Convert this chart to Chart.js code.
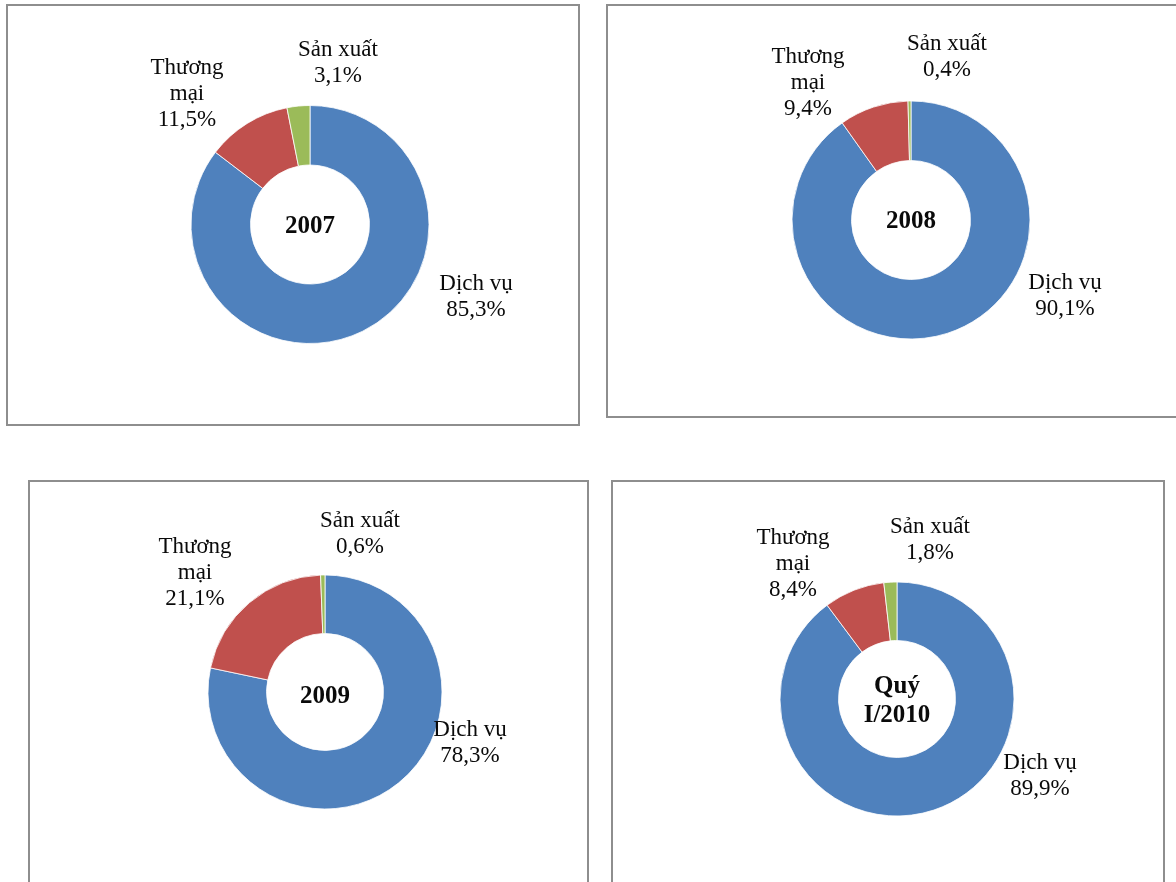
<!DOCTYPE html>
<html lang="vi">
<head>
<meta charset="utf-8">
<title>Cơ cấu theo lĩnh vực 2007 - Quý I/2010</title>
<script src="https://cdn.jsdelivr.net/npm/chart.js@4.4.1/dist/chart.umd.min.js"></script>
<style>
    html, body {
        margin: 0;
        padding: 0;
        background: #ffffff;
        width: 1176px;
        height: 882px;
        overflow: hidden;
    }
    .panel {
        position: absolute;
        box-sizing: border-box;
        border: 2px solid #8e8e8e;
        background: #ffffff;
    }
    .panel canvas {
        position: absolute;
        left: 0;
        top: 0;
    }
</style>
</head>
<body>
<script>
// Data: share of each sector (%) per period
const categories = ['Dịch vụ', 'Thương mại', 'Sản xuất'];
const periods = ['2007', '2008', '2009', 'Quý I/2010'];
const dichVu = [85.3, 90.1, 78.3, 89.9];
const thuongMai = [11.5, 9.4, 21.1, 8.4];
const sanXuat = [3.1, 0.4, 0.6, 1.8];

const sliceColors = ['#4f81bd', '#c0504d', '#9bbb59'];

// How each category name breaks over lines in its label
const nameLines = {
    'Dịch vụ': ['Dịch vụ'],
    'Thương mại': ['Thương', 'mại'],
    'Sản xuất': ['Sản xuất']
};

// Layout of the four framed boxes (page px, border included)
const boxes = [
    { left: 6, top: 4, width: 574, height: 422 },
    { left: 606, top: 4, width: 580, height: 414 },
    { left: 28, top: 480, width: 561, height: 420 },
    { left: 611, top: 480, width: 554, height: 420 }
];
// Donut centre (page px) and outer radius for each box
const centers = [[310, 224.5], [911, 220], [325, 692], [897, 699]];
const radii = [119, 119, 117, 117];
// Label block centres relative to the donut centre, in category order
const labelOffsets = [
    [[166, 72], [-123, -131], [28, -162]],
    [[154, 76], [-103, -137], [36, -163]],
    [[145, 51], [-130, -119], [35, -158]],
    [[143, 77], [-104, -135], [33, -159]]
];
// Period name in the hole sits a little below the true centre
const centerTextShift = [2, 2, 5, 2];

const BORDER = 2;
const LINE_H = 26;
const labelFont = '23px "Liberation Serif", "Times New Roman", serif';
const centerFont = 'bold 25px "Liberation Serif", "Times New Roman", serif';

function fmtPct(v) {
    return v.toFixed(1).replace('.', ',') + '%';
}

function drawLines(ctx, lines, x, y, lineH) {
    const top = y - (lines.length - 1) * lineH / 2;
    lines.forEach((line, i) => ctx.fillText(line, x, top + i * lineH));
}

// Draws the outside labels and the period name in the hole
const donutLabels = {
    id: 'donutLabels',
    afterDraw(chart) {
        const ctx = chart.ctx;
        const arc = chart.getDatasetMeta(0).data[0];
        const cx = arc.x;
        const cy = arc.y;
        const idx = chart.options.plugins.donutLabels.index;
        const values = chart.data.datasets[0].data;

        ctx.save();
        ctx.fillStyle = '#0a0a0a';
        ctx.textAlign = 'center';
        ctx.textBaseline = 'middle';

        ctx.font = labelFont;
        chart.data.labels.forEach((name, i) => {
            const off = labelOffsets[idx][i];
            const lines = nameLines[name].concat([fmtPct(values[i])]);
            drawLines(ctx, lines, cx + off[0], cy + off[1], LINE_H);
        });

        ctx.font = centerFont;
        drawLines(ctx, periods[idx].split(' '), cx, cy + centerTextShift[idx], 29);
        ctx.restore();
    }
};

let chartInstances = [];

periods.forEach((period, idx) => {
    const box = boxes[idx];
    const div = document.createElement('div');
    div.className = 'panel';
    div.style.left = box.left + 'px';
    div.style.top = box.top + 'px';
    div.style.width = box.width + 'px';
    div.style.height = box.height + 'px';
    document.body.appendChild(div);

    const w = box.width - 2 * BORDER;
    const h = box.height - 2 * BORDER;
    const canvas = document.createElement('canvas');
    canvas.width = w;
    canvas.height = h;
    canvas.style.width = w + 'px';
    canvas.style.height = h + 'px';
    div.appendChild(canvas);

    // Place a square chart area of side 2r around the donut centre
    const r = radii[idx];
    const lx = centers[idx][0] - box.left - BORDER;
    const ly = centers[idx][1] - box.top - BORDER;

    chartInstances.push(new Chart(canvas.getContext('2d'), {
        type: 'doughnut',
        data: {
            labels: categories,
            datasets: [{
                data: [dichVu[idx], thuongMai[idx], sanXuat[idx]],
                backgroundColor: sliceColors,
                borderColor: '#ffffff',
                borderWidth: 0.8,
                radius: r,
                cutout: '50%'
            }]
        },
        options: {
            responsive: false,
            animation: false,
            devicePixelRatio: 1,
            layout: {
                padding: {
                    left: lx - r,
                    right: w - lx - r,
                    top: ly - r,
                    bottom: h - ly - r
                }
            },
            plugins: {
                legend: { display: false },
                tooltip: { enabled: false },
                donutLabels: { index: idx }
            }
        },
        plugins: [donutLabels]
    }));
});
</script>
</body>
</html>
